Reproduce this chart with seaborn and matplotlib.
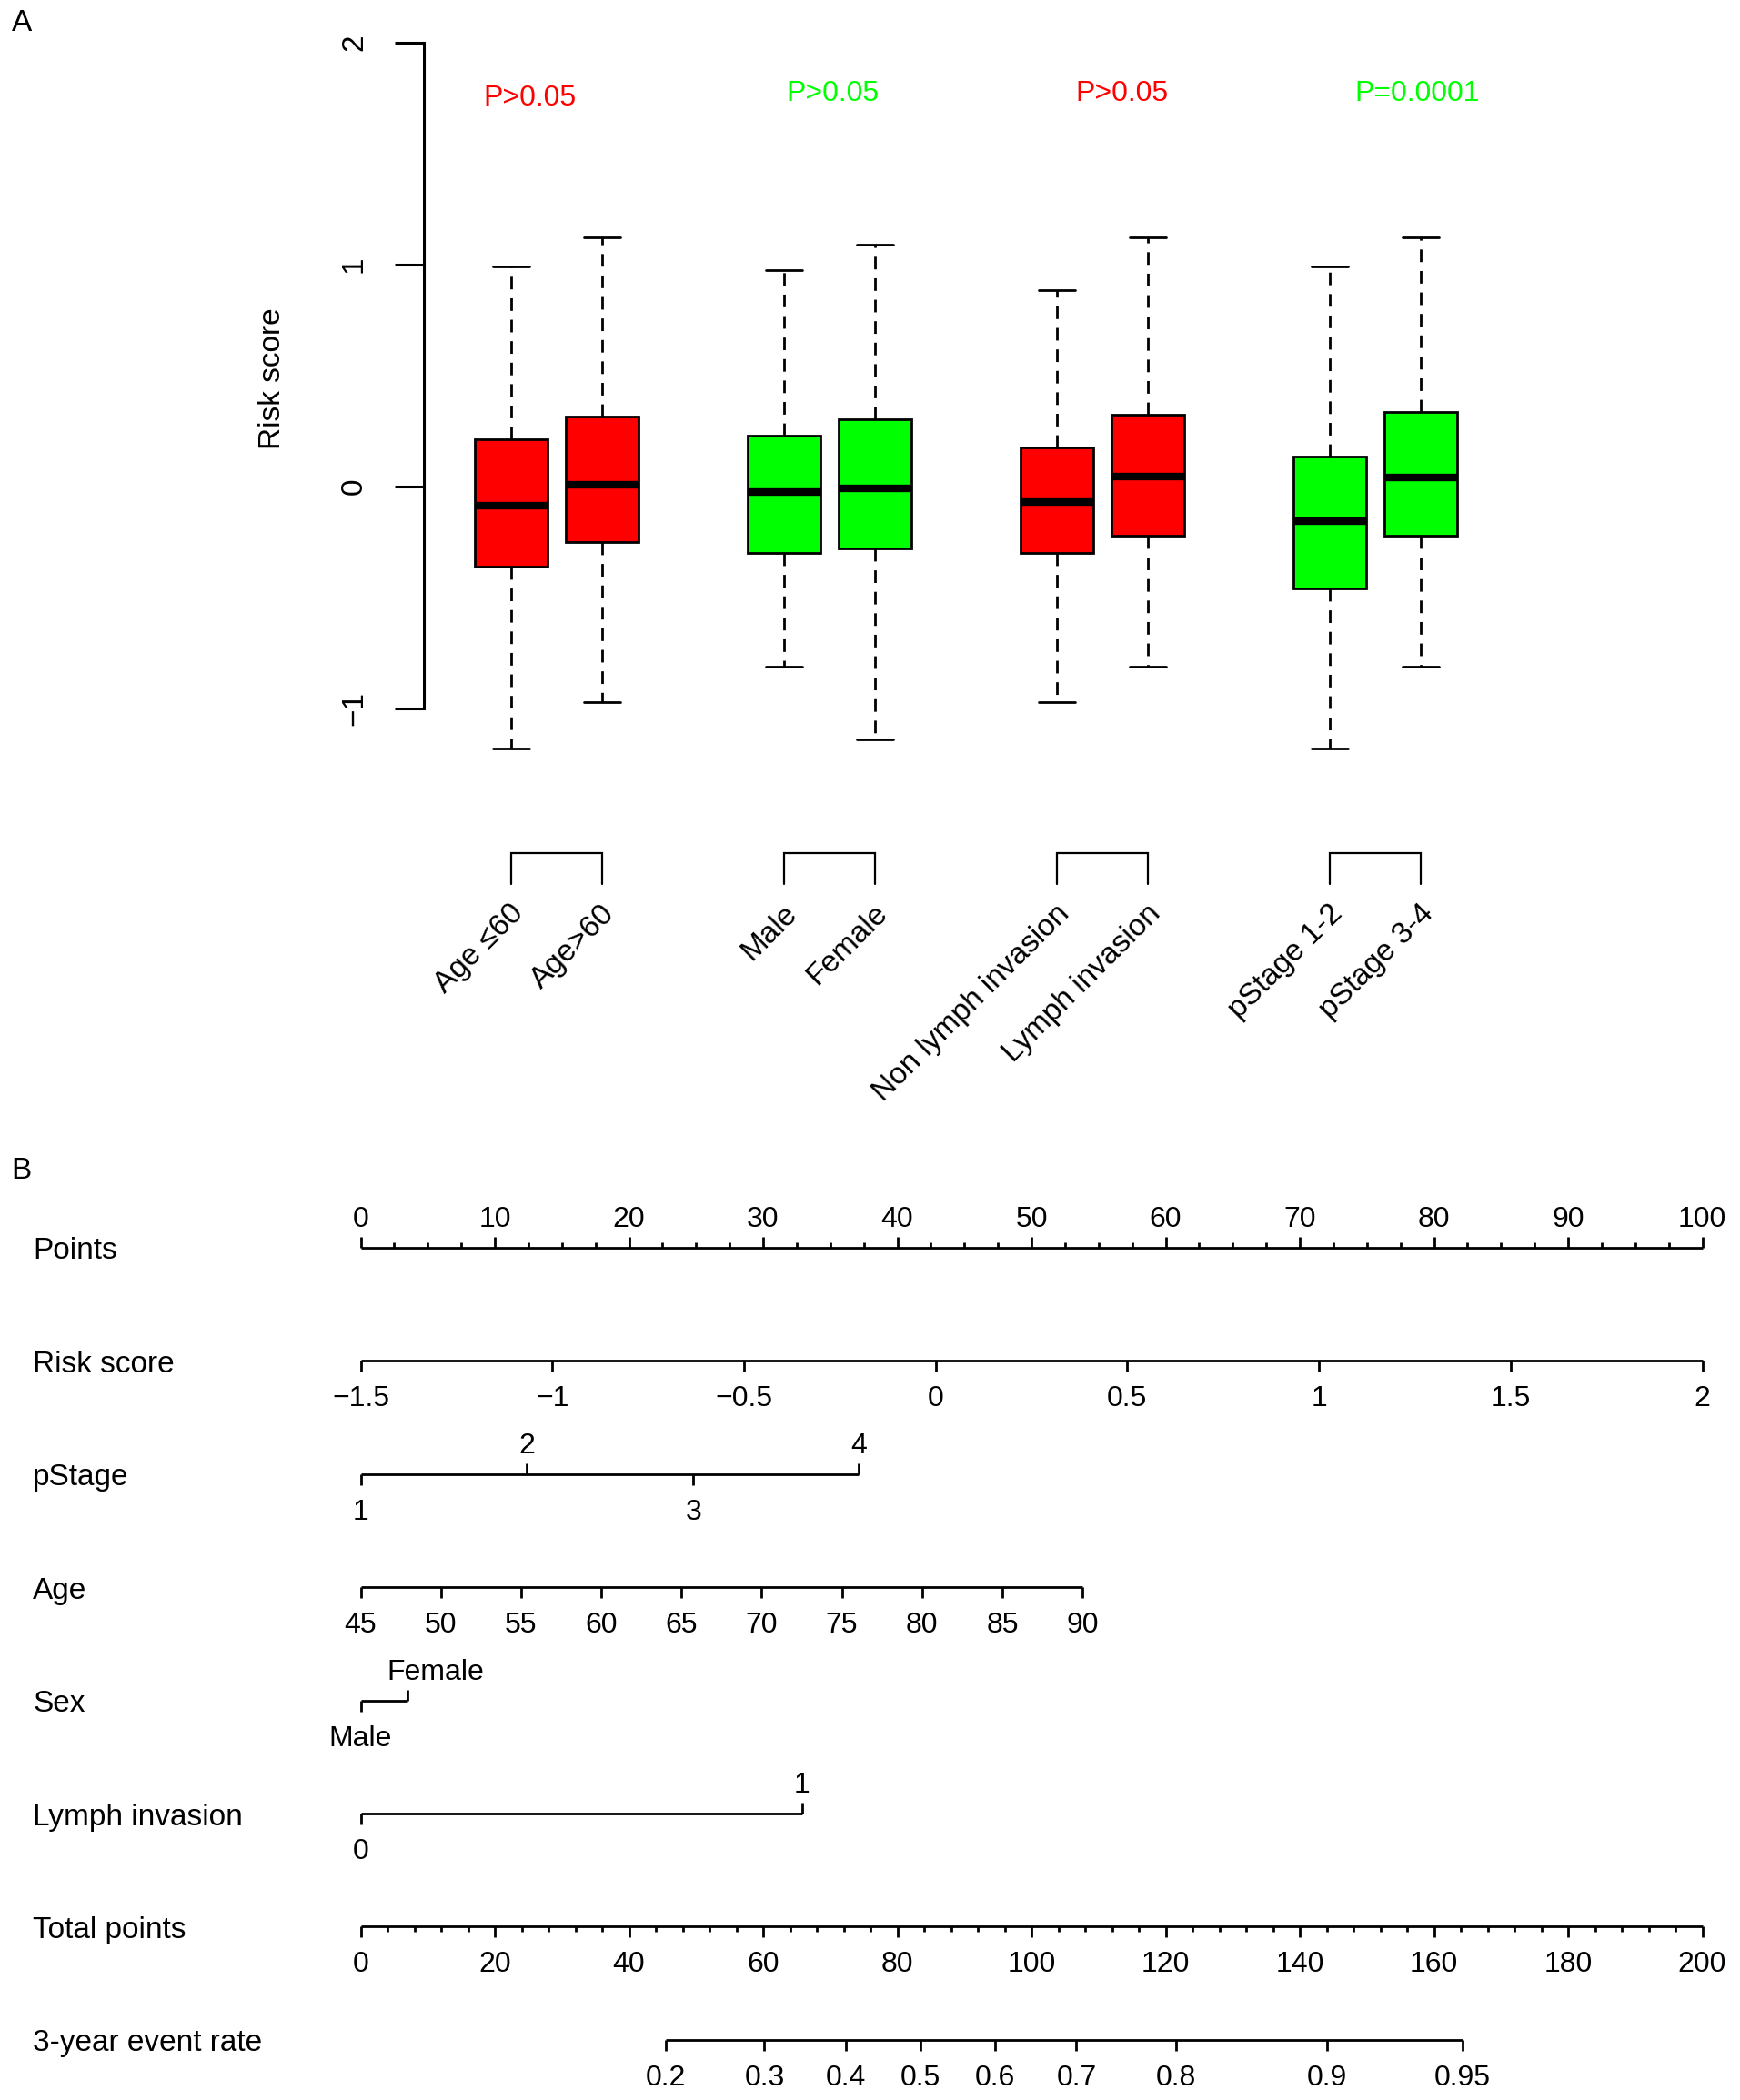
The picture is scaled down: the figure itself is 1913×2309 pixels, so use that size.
import matplotlib
matplotlib.use("Agg")
import matplotlib.pyplot as plt
import numpy as np
import pandas as pd
import seaborn as sns


# ── Panel A: five-number summaries ───────────────────────────────────────────
groups = ["Age \u226460", "Age>60", "Male", "Female",
          "Non lymph invasion", "Lymph invasion", "pStage 1-2", "pStage 3-4"]
positions = [0, 1, 3, 4, 6, 7, 9, 10]
box_colors = ["#FF0000", "#FF0000", "#00FF00", "#00FF00",
              "#FF0000", "#FF0000", "#00FF00", "#00FF00"]
whisker_low = [-1.18, -0.97, -0.81, -1.14, -0.97, -0.81, -1.18, -0.81]
q1 = [-0.36, -0.25, -0.30, -0.28, -0.30, -0.22, -0.46, -0.22]
median = [-0.085, 0.01, -0.025, -0.01, -0.07, 0.045, -0.155, 0.04]
q3 = [0.215, 0.317, 0.23, 0.305, 0.175, 0.324, 0.135, 0.338]
whisker_high = [0.99, 1.125, 0.974, 1.09, 0.887, 1.125, 0.99, 1.125]

p_labels = ["P>0.05", "P>0.05", "P>0.05", "P=0.0001"]
p_colors = ["#FF0000", "#00FF00", "#FF0000", "#00FF00"]
p_x = [0.2, 3.53, 6.71, 9.96]
p_y = [1.75, 1.77, 1.77, 1.77]
pairs = [(0, 1), (3, 4), (6, 7), (9, 10)]

# ── Panel B: nomogram scales (x in "points") ─────────────────────────────────
row_names = ["Points", "Risk score", "pStage", "Age", "Sex",
             "Lymph invasion", "Total points", "3-year event rate"]
risk_values = [-1.5, -1, -0.5, 0, 0.5, 1, 1.5, 2]
pstage_levels = ["1", "2", "3", "4"]
pstage_points = [0, 12.4, 24.8, 37.1]
pstage_side = [-1, 1, -1, 1]
age_values = [45, 50, 55, 60, 65, 70, 75, 80, 85, 90]
age_points_at_90 = 53.8
sex_levels = ["Male", "Female"]
sex_points = [0, 3.5]
sex_side = [-1, 1]
lymph_levels = ["0", "1"]
lymph_points = [0, 32.9]
lymph_side = [-1, 1]
total_values = [0, 20, 40, 60, 80, 100, 120, 140, 160, 180, 200]
event_rates = ["0.2", "0.3", "0.4", "0.5", "0.6", "0.7", "0.8", "0.9", "0.95"]
event_total_points = [45.5, 60.2, 72.3, 83.5, 94.6, 106.7, 121.6, 144.0, 164.3]

# ── Style ─────────────────────────────────────────────────────────────────────
sns.set_theme(style="white", rc={
    "axes.edgecolor": "black", "text.color": "black",
    "axes.labelcolor": "black", "xtick.color": "black", "ytick.color": "black",
})
plt.rcParams["font.family"] = ["Liberation Sans", "DejaVu Sans"]

W, H = 1913, 2309
fig = plt.figure(figsize=(W / 100, H / 100), dpi=100)


def fig_box(left, top, right, bottom):
    """Pixel box -> figure fraction rectangle."""
    return [left / W, 1 - bottom / H, (right - left) / W, (bottom - top) / H]


# ── Panel A ───────────────────────────────────────────────────────────────────
ylo, yhi = -1.3, 2.15
y0_px, unit_px = 535, 244
axA = fig.add_axes(fig_box(466, y0_px - yhi * unit_px, 1662, y0_px - ylo * unit_px))

rows = []
for g, pos, lo, a, m, b, hi in zip(groups, positions, whisker_low, q1, median, q3, whisker_high):
    for v in (lo, a, m, b, hi):
        rows.append({"group": g, "pos": pos, "risk": v})
df = pd.DataFrame(rows)

sns.boxplot(
    data=df, x="pos", y="risk", hue="group", hue_order=groups,
    palette=box_colors, saturation=1, native_scale=True, dodge=False,
    width=0.8, whis=(0, 100), showfliers=False, legend=False,
    linecolor="black", linewidth=2, ax=axA,
    medianprops=dict(linewidth=6, color="black", solid_capstyle="butt"),
    whiskerprops=dict(linestyle=(0, (5, 3.5)), linewidth=2),
    capprops=dict(linewidth=2),
)

axA.set_xlim(-0.96, 11.0)
axA.set_ylim(ylo, yhi)
axA.set_xlabel("")
axA.set_ylabel("")
axA.set_xticks([])
for side in ("top", "right", "bottom"):
    axA.spines[side].set_visible(False)
axA.spines["left"].set_bounds(-1, 2)
axA.spines["left"].set_linewidth(2.2)
axA.set_yticks([-1, 0, 1, 2], labels=["\u22121", "0", "1", "2"], rotation=90, va="center")
axA.tick_params(axis="y", left=True, length=23, width=2.2, labelsize=24, pad=21)

axA.text(-0.1388, 0.487, "Risk score", transform=axA.get_yaxis_transform(),
         rotation=90, ha="center", va="center", fontsize=24)

for lab, col, x, y in zip(p_labels, p_colors, p_x, p_y):
    axA.text(x, y, lab, color=col, ha="center", va="center", fontsize=23)

br_top, br_bot = -1.652, -1.791
for a, b in pairs:
    axA.plot([a, a, b, b], [br_bot, br_top, br_top, br_bot], color="black",
             lw=1.6, clip_on=False, solid_joinstyle="miter")

for g, pos in zip(groups, positions):
    axA.text(pos + 0.09, -1.905, g, rotation=45, rotation_mode="anchor",
             ha="right", va="center", fontsize=24, clip_on=False)

fig.text(13 / W, 1 - 25 / H, "A", ha="left", va="center", fontsize=24)
fig.text(12 / W, 1 - 1287 / H, "B", ha="left", va="center", fontsize=24)

# ── Panel B: nomogram ─────────────────────────────────────────────────────────
x0_px, pt_px = 396.5, 14.75
axB = fig.add_axes(fig_box(0, 1250, W, H))
axB.set_xlim(-x0_px / pt_px, (W - x0_px) / pt_px)
axB.set_ylim(H, 1250)
axB.axis("off")

row_y = [1372 + 124.4 * i for i in range(len(row_names))]
major_len, minor_len = 12, 6
off_above, off_below = 31, 42
lw = 2.0


def label_y(y, s):
    return y - off_above if s > 0 else y + off_below


def draw_scale(y, xs, labels, sides, minor_xs=(), minor_side=1):
    axB.plot([min(xs), max(xs)], [y, y], color="black", lw=lw, solid_capstyle="butt")
    for x, lab, s in zip(xs, labels, sides):
        axB.plot([x, x], [y, y - s * major_len], color="black", lw=lw, solid_capstyle="butt")
        axB.text(x, label_y(y, s), lab, ha="center", va="center", fontsize=23)
    for x in minor_xs:
        axB.plot([x, x], [y, y - minor_side * minor_len], color="black", lw=lw,
                 solid_capstyle="butt")


for name, y in zip(row_names, row_y):
    axB.text(-24.44, y + 4, name, ha="left", va="center", fontsize=24)

# Points
pts_major = list(range(0, 101, 10))
pts_minor = [v for v in np.arange(0, 100.01, 2.5) if v % 10]
draw_scale(row_y[0], pts_major, [str(v) for v in pts_major], [1] * len(pts_major),
           pts_minor, 1)

# Risk score
risk_x = [(r - risk_values[0]) / (risk_values[-1] - risk_values[0]) * 100 for r in risk_values]
risk_lab = [f"{r:g}".replace("-", "\u2212") for r in risk_values]
draw_scale(row_y[1], risk_x, risk_lab, [-1] * len(risk_values))

# pStage
draw_scale(row_y[2], pstage_points, pstage_levels, pstage_side)

# Age
age_x = [(a - age_values[0]) / (age_values[-1] - age_values[0]) * age_points_at_90
         for a in age_values]
draw_scale(row_y[3], age_x, [str(a) for a in age_values], [-1] * len(age_values))

# Sex (Female label sits a bit to the right of its tick)
y = row_y[4]
axB.plot([sex_points[0], sex_points[-1]], [y, y], color="black", lw=lw, solid_capstyle="butt")
for x, lab, s, dx in zip(sex_points, sex_levels, sex_side, [0, 2.1]):
    axB.plot([x, x], [y, y - s * major_len], color="black", lw=lw, solid_capstyle="butt")
    axB.text(x + dx, label_y(y, s), lab, ha="center", va="center", fontsize=23)

# Lymph invasion
draw_scale(row_y[5], lymph_points, lymph_levels, lymph_side)

# Total points (0-200 spread over 0-100 points)
tot_x = [t / 2 for t in total_values]
tot_minor = [t / 2 for t in range(0, 201, 4) if t % 20]
draw_scale(row_y[6], tot_x, [str(t) for t in total_values], [-1] * len(total_values),
           tot_minor, -1)

# 3-year event rate
ev_x = [t / 2 for t in event_total_points]
draw_scale(row_y[7], ev_x, event_rates, [-1] * len(event_rates))

fig.savefig("out.png", dpi=100)
